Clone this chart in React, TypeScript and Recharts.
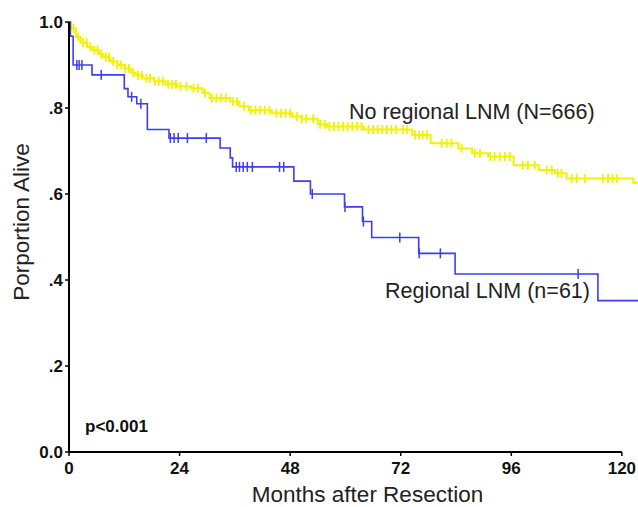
import { ComposedChart, Line, Scatter, XAxis, YAxis, ReferenceLine, Label } from 'recharts'

const FONT = 'Arial, "Liberation Sans", sans-serif'

// No regional LNM (N=666): step times (months) and proportion alive
const noLnmTimes = [0, 0.5, 1.5, 2.5, 4, 5, 6.5, 7.5, 9, 10.5, 12, 13.5, 14.5, 16, 18.5, 21, 23.5, 26.5, 29, 30.5, 35, 37, 39, 44, 48.5, 50.5, 54, 56, 64, 74.5, 78.5, 84.5, 87.5, 91, 96.5, 102, 105.5, 108, 122.5, 123.5]
const noLnmSurv = [1, 0.985, 0.965, 0.952, 0.942, 0.935, 0.925, 0.918, 0.908, 0.9, 0.892, 0.882, 0.876, 0.869, 0.862, 0.855, 0.85, 0.846, 0.835, 0.823, 0.815, 0.804, 0.795, 0.788, 0.78, 0.775, 0.762, 0.757, 0.75, 0.737, 0.718, 0.706, 0.695, 0.687, 0.667, 0.656, 0.648, 0.636, 0.626, 0.626]
const noLnmCensored = [1, 2, 3, 3.8, 4.6, 5.5, 6.2, 7, 8, 8.7, 9.6, 10.5, 11.3, 12.2, 13, 14, 15, 15.8, 16.8, 17.6, 18.6, 19.5, 20.4, 21.5, 22.4, 23.2, 24.2, 25.5, 27, 28, 29.5, 31, 32, 33, 34, 35.5, 36.5, 38, 39.5, 40.5, 41.5, 42.5, 43.5, 45, 46, 47, 48, 49.5, 50.5, 51.5, 53, 54.5, 55.5, 56.5, 57.5, 58.5, 59.5, 60.5, 61.5, 62.5, 63.5, 65, 66, 67, 68, 69, 70, 71, 72.5, 73.4, 75.1, 76, 76.8, 77.7, 80.9, 82, 83, 85.2, 88.1, 89.2, 91.4, 92.4, 93.5, 94.6, 95.7, 98.5, 99.6, 101.1, 103.7, 104.8, 106.1, 106.9, 109.1, 110.2, 112, 115.9, 117, 118, 118.9]

// Regional LNM (n=61)
const lnmTimes = [0, 0.3, 0.9, 5, 12, 12.8, 14.7, 17, 21.7, 32.8, 35, 35.5, 48.8, 52.4, 59.8, 63.7, 65.7, 75.9, 83.8, 114.8, 123.5]
const lnmSurv = [1, 0.967, 0.9, 0.877, 0.845, 0.826, 0.81, 0.75, 0.73, 0.707, 0.684, 0.663, 0.63, 0.6, 0.57, 0.536, 0.499, 0.462, 0.414, 0.352, 0.352]
const lnmCensored = [1.7, 2.2, 2.8, 7, 13.6, 15.6, 22, 22.8, 23.7, 25.7, 29.8, 36.3, 37, 37.8, 38.7, 39.8, 45.7, 46.6, 52.8, 59.9, 63.9, 71.8, 76, 80.6, 110.5]

const xTicks = [0, 24, 48, 72, 96, 120]
const yTicks = [0, 0.2, 0.4, 0.6, 0.8, 1]

const YELLOW = '#f2f200'
const BLUE = '#3d3df2'

function steps(times: number[], surv: number[]) {
  return times.map((t, i) => ({ t, s: surv[i] }))
}

// read the curve's height at each censored time
function marks(censored: number[], times: number[], surv: number[]) {
  return censored.map((t) => {
    let s = surv[0]
    times.forEach((tt, i) => { if (tt <= t) s = surv[i] })
    return { t, s }
  })
}

const yFmt = (v: number) => (v === 0 ? '0.0' : v === 1 ? '1.0' : '.' + Math.round(v * 10))

function tick(color: string, h: number, w: number) {
  return (p: any) => (
    <line x1={p.cx} x2={p.cx} y1={p.cy - h / 2} y2={p.cy + h / 2} stroke={color} strokeWidth={w} />
  )
}

export default function App() {
  const tickStyle = { fontSize: 17, fontWeight: 'bold' as const, fill: '#111', fontFamily: FONT }
  return (
    <div style={{ position: 'absolute', left: 0, top: 0, width: 638, height: 507, background: '#fff', fontFamily: FONT }}>
      <ComposedChart width={638} height={507} margin={{ top: 22, right: 0, bottom: 0, left: 0 }}>
        <XAxis
          type="number"
          dataKey="t"
          domain={[0, 123.5]}
          ticks={xTicks}
          allowDataOverflow
          axisLine={false}
          tickSize={4}
          tickMargin={6}
          tickLine={{ stroke: '#000', strokeWidth: 1.5 }}
          tick={tickStyle}
          height={55}
        >
          <Label value="Months after Resection" position="center" dx={14} dy={15} style={{ fontSize: 22.5, fill: '#222', fontFamily: FONT }} />
        </XAxis>
        <YAxis
          type="number"
          domain={[0, 1]}
          ticks={yTicks}
          tickFormatter={yFmt}
          width={69}
          tickSize={4}
          tickMargin={2}
          axisLine={{ stroke: '#000', strokeWidth: 2 }}
          tickLine={{ stroke: '#000', strokeWidth: 1.5 }}
          tick={tickStyle}
        >
          <Label value="Porportion Alive" position="center" angle={-90} dx={-13} dy={-15} style={{ fontSize: 22.5, fill: '#222', fontFamily: FONT }} />
        </YAxis>
        <ReferenceLine segment={[{ x: 0, y: 0 }, { x: 120, y: 0 }]} stroke="#000" strokeWidth={2} />
        <Line data={steps(noLnmTimes, noLnmSurv)} dataKey="s" type="stepAfter" stroke={YELLOW} strokeWidth={2} dot={false} activeDot={false} isAnimationActive={false} />
        <Line data={steps(lnmTimes, lnmSurv)} dataKey="s" type="stepAfter" stroke={BLUE} strokeWidth={1.6} dot={false} activeDot={false} isAnimationActive={false} />
        <Scatter data={marks(noLnmCensored, noLnmTimes, noLnmSurv)} dataKey="s" shape={tick(YELLOW, 9, 1.8)} isAnimationActive={false} />
        <Scatter data={marks(lnmCensored, lnmTimes, lnmSurv)} dataKey="s" shape={tick(BLUE, 10, 1.5)} isAnimationActive={false} />
      </ComposedChart>
      <div style={{ position: 'absolute', left: 349, top: 100, fontSize: 21.5, color: '#222', whiteSpace: 'nowrap' }}>No regional LNM (N=666)</div>
      <div style={{ position: 'absolute', left: 385, top: 279, fontSize: 21.5, color: '#222', whiteSpace: 'nowrap' }}>Regional LNM (n=61)</div>
      <div style={{ position: 'absolute', left: 85, top: 417, fontSize: 17, fontWeight: 'bold', color: '#111', whiteSpace: 'nowrap' }}>p&lt;0.001</div>
    </div>
  )
}
